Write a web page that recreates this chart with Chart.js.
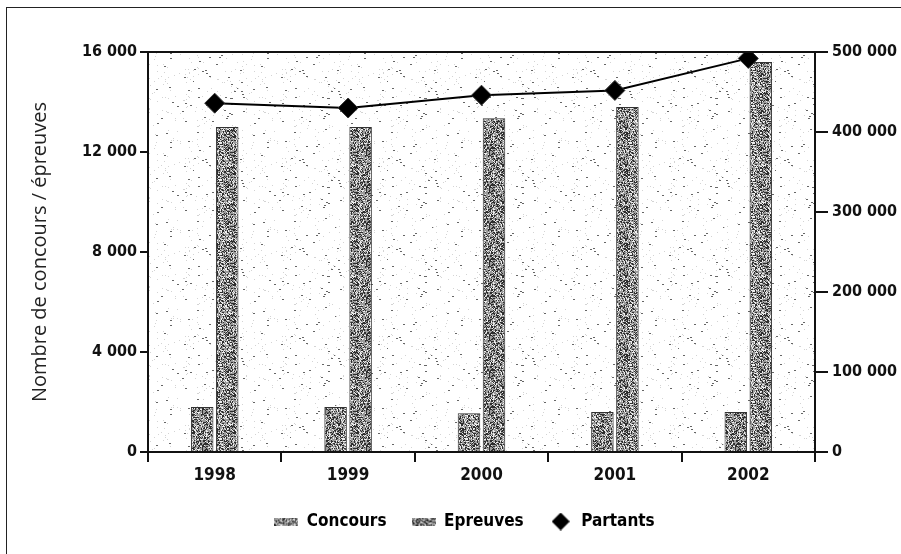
<!DOCTYPE html>
<html>
<head>
<meta charset="utf-8">
<script src="https://cdn.jsdelivr.net/npm/chart.js@4"></script>
<style>
  html, body { margin: 0; padding: 0; background: #fff; overflow: hidden; }
  #wrap { position: relative; width: 901px; height: 554px; }
  #frame { position: absolute; left: 6px; top: 7px; width: 1000px; height: 1000px; border: 1px solid #222; }
  canvas { position: absolute; left: 0; top: 0; }
</style>
</head>
<body>
<div id="wrap">
  <div id="frame"></div>
  <canvas id="c" width="901" height="554"></canvas>
</div>
<script>
const years     = ['1998', '1999', '2000', '2001', '2002'];
const concours  = [1800, 1800, 1550, 1600, 1600];
const epreuves  = [13000, 13000, 13350, 13800, 15600];
const partants  = [436000, 430000, 446000, 452000, 492000];

const leftTicks  = [0, 4000, 8000, 12000, 16000];
const rightTicks = [0, 100000, 200000, 300000, 400000, 500000];

const family   = '"DejaVu Sans Condensed", "Liberation Sans Narrow", sans-serif';
const yFont    = { family, size: 16, weight: 'bold' };
const xFont    = { family, size: 17, weight: 'bold' };
const ink = '#111';

/* ─── Textures ──────────────────────────────────────────────────────────── */

// small LCG so the texture is the same on every run
function lcg(seed) {
    let s = seed;
    return () => (s = (s * 1664525 + 1013904223) >>> 0) / 4294967296;
}

function speckle(w, h, base, dots, seed) {
    const cv = document.createElement('canvas');
    cv.width = w; cv.height = h;
    const ctx = cv.getContext('2d');
    ctx.fillStyle = base;
    ctx.fillRect(0, 0, w, h);
    const rnd = lcg(seed);
    for (let y = 0; y < h; y++) {
        for (let x = 0; x < w; x++) {
            const r = rnd();
            for (const d of dots) {
                if (r < d.p) { ctx.fillStyle = d.c; ctx.fillRect(x, y, d.w || 1, 1); break; }
            }
        }
    }
    return cv;
}

const barDots = [{ p: 0.36, c: '#2e2e2e' }, { p: 0.55, c: '#eeeeee' }];
const bgCanvas  = speckle(97, 89, '#ffffff', [{ p: 0.008, c: '#666', w: 2 }, { p: 0.025, c: '#d4d4d4' }], 7);
const barCanvas = speckle(41, 37, '#9c9c9c', barDots, 11);
const tmp = document.createElement('canvas').getContext('2d');
const bgPattern  = tmp.createPattern(bgCanvas, 'repeat');
const barPattern = tmp.createPattern(barCanvas, 'repeat');

function swatch(seed) {
    return speckle(24, 8, '#9c9c9c', barDots, seed);
}

function diamond() {
    const cv = document.createElement('canvas');
    cv.width = 18; cv.height = 18;
    const ctx = cv.getContext('2d');
    ctx.fillStyle = '#000';
    ctx.beginPath();
    ctx.moveTo(9, 0); ctx.lineTo(18, 9); ctx.lineTo(9, 18); ctx.lineTo(0, 9);
    ctx.closePath();
    ctx.fill();
    return cv;
}

const legendIcons = [swatch(3), swatch(5), diamond()];

const fmt = v => String(v).replace(/\B(?=(\d{3})+(?!\d))/g, ' ');

/* ─── Plugins ───────────────────────────────────────────────────────────── */

const plotBox = {
    id: 'plotBox',
    beforeDraw(chart) {
        const a = chart.chartArea, ctx = chart.ctx;
        ctx.save();
        ctx.fillStyle = bgPattern;
        ctx.fillRect(a.left, a.top, a.right - a.left, a.bottom - a.top);
        ctx.restore();
    },
    afterDraw(chart) {
        const a = chart.chartArea, ctx = chart.ctx;
        ctx.save();
        ctx.strokeStyle = ink;
        ctx.lineWidth = 2;
        ctx.beginPath();
        ctx.moveTo(a.left, a.top);
        ctx.lineTo(a.right, a.top);
        ctx.stroke();
        ctx.restore();
    }
};

const legendHeight = {
    id: 'legendHeight',
    afterInit(chart) {
        const fit = chart.legend.fit;
        chart.legend.fit = function () {
            fit.call(this);
            this.height = 66;
        };
    }
};

/* ─── Chart ─────────────────────────────────────────────────────────────── */

new Chart(document.getElementById('c'), {
    data: {
        labels: years,
        datasets: [
            { type: 'line', label: 'Partants', data: partants, yAxisID: 'y1', order: 0,
              borderColor: '#000', borderWidth: 2, tension: 0,
              pointStyle: 'rectRot', pointRadius: 10, pointHoverRadius: 10,
              pointBackgroundColor: '#000', pointBorderColor: '#333', pointBorderWidth: 1 },
            { type: 'bar', label: 'Concours', data: concours, yAxisID: 'y', order: 1,
              backgroundColor: barPattern, borderColor: '#333', borderWidth: 1,
              categoryPercentage: 0.375, barPercentage: 0.9 },
            { type: 'bar', label: 'Epreuves', data: epreuves, yAxisID: 'y', order: 2,
              backgroundColor: barPattern, borderColor: '#333', borderWidth: 1,
              categoryPercentage: 0.375, barPercentage: 0.9 }
        ]
    },
    options: {
        responsive: false,
        animation: false,
        layout: { padding: { left: 28, right: 0, top: 52, bottom: 0 } },
        plugins: {
            tooltip: { enabled: false },
            legend: {
                position: 'bottom',
                labels: {
                    usePointStyle: true,
                    pointStyleWidth: 24,
                    boxHeight: 16,
                    padding: 25,
                    color: ink,
                    font: xFont,
                    generateLabels(chart) {
                        const order = ['Concours', 'Epreuves', 'Partants'];
                        return order.map((name, i) => {
                            const idx = chart.data.datasets.findIndex(d => d.label === name);
                            return { text: name, datasetIndex: idx, pointStyle: legendIcons[i],
                                     fillStyle: '#000', strokeStyle: '#000', lineWidth: 0, hidden: false };
                        });
                    }
                }
            }
        },
        scales: {
            x: {
                offset: true,
                grid: { display: true, offset: true, drawOnChartArea: false, tickLength: 10, color: ink, lineWidth: 2 },
                border: { display: true, color: ink, width: 2 },
                ticks: { color: ink, font: xFont, padding: 3, maxRotation: 0 },
                afterFit(s) { s.height = 36; }
            },
            y: {
                position: 'left',
                min: 0, max: 16000,
                afterBuildTicks(s) { s.ticks = leftTicks.map(v => ({ value: v })); },
                grid: { drawOnChartArea: false, tickLength: 8, color: ink, lineWidth: 2 },
                border: { display: true, color: ink, width: 2 },
                ticks: { color: ink, font: yFont, padding: 3, callback: fmt },
                title: { display: true, text: 'Nombre de concours / épreuves', color: '#222',
                         font: { family: '"Open Sans", "DejaVu Sans", sans-serif', size: 20, weight: 'normal' },
                         padding: { top: 0, bottom: 0 } },
                afterFit(s) { s.width = 120; }
            },
            y1: {
                position: 'right',
                min: 0, max: 500000,
                afterBuildTicks(s) { s.ticks = rightTicks.map(v => ({ value: v })); },
                grid: { drawOnChartArea: false, tickLength: 13, color: ink, lineWidth: 2 },
                border: { display: true, color: ink, width: 2 },
                ticks: { color: ink, font: yFont, padding: 4, callback: fmt },
                afterFit(s) { s.width = 86; }
            }
        }
    },
    plugins: [plotBox, legendHeight]
});
</script>
</body>
</html>
